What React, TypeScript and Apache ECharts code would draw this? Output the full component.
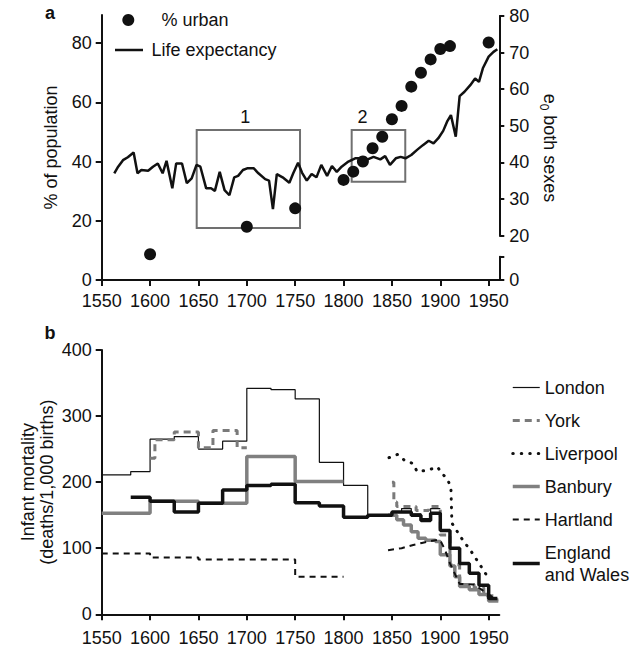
import React, { useEffect, useRef } from "react";
import * as echarts from "echarts";

// ---------- Panel a ----------
const X_TICKS = [1550, 1600, 1650, 1700, 1750, 1800, 1850, 1900, 1950];
const LEFT_TICKS = [0, 20, 40, 60, 80];

const URBAN_YEARS = [1600, 1700, 1750, 1800, 1810, 1820, 1830, 1840, 1850, 1860, 1870, 1880, 1890, 1900, 1910, 1950];
const URBAN_PCT = [8.7, 18.0, 24.2, 33.8, 36.6, 40.0, 44.5, 48.4, 54.3, 58.8, 65.3, 70.0, 74.5, 78.0, 79.0, 80.2];

const LE_YEARS = [
  1563, 1567, 1572, 1577, 1583, 1587, 1591, 1598, 1603, 1608, 1613, 1617, 1623, 1627, 1633, 1638, 1643, 1648,
  1652, 1658, 1663, 1667, 1672, 1677, 1682, 1687, 1691, 1696, 1701, 1707, 1712, 1719, 1723, 1727, 1731, 1737,
  1744, 1748, 1753, 1757, 1762, 1767, 1772, 1777, 1783, 1788, 1793, 1798, 1805, 1812, 1819, 1825, 1831, 1838,
  1843, 1848, 1854, 1859, 1864, 1870, 1876, 1882, 1888, 1893, 1898, 1903, 1907, 1911, 1916, 1920, 1925, 1931,
  1936, 1940, 1944, 1950, 1955, 1959,
];
const LE_VALUES = [
  37.0, 38.8, 40.6, 41.4, 42.7, 37.0, 37.9, 37.7, 38.8, 39.7, 37.0, 40.4, 32.9, 39.7, 39.7, 34.3, 35.6, 39.3,
  38.8, 32.9, 32.9, 32.2, 37.4, 32.4, 31.0, 35.9, 36.3, 37.9, 38.4, 38.4, 37.0, 35.4, 35.0, 27.2, 36.8, 35.9,
  34.4, 37.0, 39.9, 37.2, 35.0, 36.8, 35.9, 39.3, 36.3, 39.0, 37.4, 38.8, 40.2, 41.1, 41.1, 40.8, 41.5, 40.8,
  41.7, 39.3, 41.1, 41.5, 41.1, 42.0, 43.4, 44.7, 45.9, 45.2, 46.6, 48.6, 51.1, 52.9, 47.0, 58.1, 59.3, 61.1,
  62.9, 62.0, 65.7, 68.9, 70.2, 70.9,
];

// highlighted periods: [x0, x1, yTop, yBottom] in data units of % axis
const BOX_LABELS = ["1", "2"];
const BOX_X0 = [1648.2, 1808.4];
const BOX_X1 = [1755, 1863.8];
const BOX_YTOP = [50.7, 50.7];
const BOX_YBOT = [17.6, 33.2];

// ---------- Panel b ----------
const LONDON_YEARS = [1550, 1580, 1600, 1625, 1650, 1675, 1700, 1725, 1750, 1775, 1800, 1825, 1850, 1860, 1870, 1880, 1890, 1900];
const LONDON_VALUES = [211, 216, 265, 269, 250, 262, 342, 340, 326, 230, 195, 150, 155, 160, 152, 145, 160, 160];

const YORK_EARLY_YEARS = [1600, 1605, 1625, 1650, 1665, 1690, 1700];
const YORK_EARLY_VALUES = [236, 264, 276, 252, 278, 252, 252];
const YORK_LATE_YEARS = [1850, 1852, 1855, 1875, 1888, 1900, 1910, 1920, 1935, 1945, 1955, 1960];
const YORK_LATE_VALUES = [200, 170, 163, 157, 163, 120, 75, 45, 40, 28, 22, 22];

const LIVERPOOL_YEARS = [1847, 1856, 1863, 1872, 1876, 1887, 1897, 1902, 1908, 1911, 1912, 1922, 1932, 1941, 1951];
const LIVERPOOL_VALUES = [237, 242, 233, 228, 216, 218, 223, 213, 203, 190, 138, 115, 95, 75, 52];

const BANBURY_EARLY_YEARS = [1550, 1600, 1650, 1700, 1750, 1800];
const BANBURY_EARLY_VALUES = [153, 171, 168, 239, 201, 201];
const BANBURY_LATE_YEARS = [1846, 1855, 1862, 1870, 1877, 1885, 1895, 1900, 1910, 1915, 1920, 1930, 1940, 1950, 1960];
const BANBURY_LATE_VALUES = [150, 143, 135, 125, 115, 112, 110, 90, 73, 57, 42, 37, 30, 20, 20];

const HARTLAND_EARLY_YEARS = [1550, 1600, 1650, 1750, 1800];
const HARTLAND_EARLY_VALUES = [92, 86, 83, 57, 57];
const HARTLAND_LATE_YEARS = [1846, 1860, 1872, 1881, 1898, 1900, 1905, 1910, 1920, 1935, 1945, 1955];
const HARTLAND_LATE_VALUES = [97, 100, 105, 108, 113, 112, 97, 77, 46, 45, 35, 25];

const EW_YEARS = [1580, 1600, 1625, 1650, 1675, 1700, 1725, 1750, 1775, 1800, 1825, 1850, 1870, 1880, 1890, 1900, 1910, 1920, 1930, 1940, 1950, 1959];
const EW_VALUES = [177, 171, 155, 168, 188, 195, 197, 169, 164, 147, 150, 155, 150, 142, 153, 127, 100, 77, 62, 44, 24, 24];

const LEGEND_NAMES = ["London", "York", "Liverpool", "Banbury", "Hartland", "England and Wales"];

const zip = (xs: number[], ys: number[]) => xs.map((x, i) => [x, ys[i]]);

const FONT = "Liberation Sans, Arial, Helvetica, sans-serif";
const INK = "#111111";
const GRAY = "#7a7a7a";

export default function App() {
  const ref = useRef<HTMLDivElement>(null);

  useEffect(() => {
    if (!ref.current) return;
    const chart = echarts.init(ref.current, undefined, { renderer: "svg" });

    const L = 101.7;
    const W = 397.6;

    const axisLineStyle = { lineStyle: { color: INK, width: 2 } };
    const tickStyle = { lineStyle: { color: INK, width: 2 }, length: 6 };
    const labelStyle = { color: INK, fontSize: 18, fontFamily: FONT };

    const hiddenX = (gi: number) => ({
      type: "value",
      gridIndex: gi,
      min: 1550,
      max: 1961,
      show: false,
      splitLine: { show: false },
    });

    const visibleX = (gi: number, margin: number) => ({
      type: "value",
      gridIndex: gi,
      min: 1550,
      max: 1961,
      axisLine: axisLineStyle,
      axisTick: { ...tickStyle, customValues: X_TICKS },
      axisLabel: { ...labelStyle, margin, customValues: X_TICKS, formatter: (v: number) => String(v) },
      splitLine: { show: false },
    });

    const stepLine = (name: string, data: number[][], lineStyle: any, step: any = "end") => ({
      name,
      type: "line",
      xAxisIndex: 3,
      yAxisIndex: 3,
      step,
      data,
      symbol: "none",
      showSymbol: false,
      clip: false,
      lineStyle,
      itemStyle: { color: lineStyle.color },
      emphasis: { disabled: true },
    });

    const styles: Record<string, any> = {
      London: { color: INK, width: 1.2 },
      York: { color: GRAY, width: 3, type: [7, 5] },
      Liverpool: { color: INK, width: 3, type: [0.5, 8], cap: "round" },
      Banbury: { color: "#808080", width: 3.5 },
      Hartland: { color: INK, width: 2, type: [6, 5] },
      "England and Wales": { color: INK, width: 3.5 },
    };

    const option: any = {
      animation: false,
      textStyle: { fontFamily: FONT },
      grid: [
        { left: L, top: 15, width: W, height: 265 },
        { left: L, top: 16, width: W, height: 219.5 },
        { left: L, top: 256.7, width: W, height: 23.3 },
        { left: L, top: 350, width: W, height: 264.3 },
      ],
      xAxis: [visibleX(0, 12), hiddenX(1), hiddenX(2), visibleX(3, 15)],
      yAxis: [
        {
          type: "value",
          gridIndex: 0,
          position: "left",
          min: 0,
          max: 89.5,
          axisLine: { show: true, ...axisLineStyle },
          axisTick: { show: true, ...tickStyle, customValues: LEFT_TICKS },
          axisLabel: { ...labelStyle, margin: 10, customValues: LEFT_TICKS },
          splitLine: { show: false },
          name: "% of population",
          nameLocation: "middle",
          nameGap: 42,
          nameMoveOverlap: false,
          nameTextStyle: { color: INK, fontSize: 18, fontFamily: FONT },
        },
        {
          type: "value",
          gridIndex: 1,
          position: "right",
          min: 20,
          max: 80,
          interval: 10,
          axisLine: { show: true, ...axisLineStyle },
          axisTick: { show: true, ...tickStyle, length: 5 },
          axisLabel: { ...labelStyle, margin: 10 },
          splitLine: { show: false },
        },
        {
          type: "value",
          gridIndex: 2,
          position: "right",
          min: 0,
          max: 6.37,
          axisLine: { show: true, ...axisLineStyle },
          axisTick: { show: true, ...tickStyle, length: 5, customValues: [0, 6.37] },
          axisLabel: { ...labelStyle, margin: 10, customValues: [0] },
          splitLine: { show: false },
        },
        {
          type: "value",
          gridIndex: 3,
          position: "left",
          min: 0,
          max: 400,
          interval: 100,
          axisLine: { show: true, ...axisLineStyle },
          axisTick: { show: true, ...tickStyle },
          axisLabel: { ...labelStyle, margin: 10 },
          splitLine: { show: false },
          name: "Infant mortality\n(deaths/1,000 births)",
          nameLocation: "middle",
          nameGap: 45,
          nameMoveOverlap: false,
          nameTextStyle: { color: INK, fontSize: 18, fontFamily: FONT, lineHeight: 19 },
        },
      ],
      legend: {
        data: LEGEND_NAMES.map((n) => ({ name: n, lineStyle: { ...styles[n] } })),
        orient: "vertical",
        left: 506,
        top: 371.5,
        itemWidth: 27,
        itemHeight: 14,
        itemGap: 11,
        selectedMode: false,
        itemStyle: { opacity: 0 },
        formatter: (n: string) => (n === "England and Wales" ? "England\nand Wales" : n),
        textStyle: { color: INK, fontSize: 18, fontFamily: FONT, lineHeight: 22 },
      },
      series: [
        {
          name: "% urban",
          type: "scatter",
          xAxisIndex: 0,
          yAxisIndex: 0,
          data: zip(URBAN_YEARS, URBAN_PCT),
          symbolSize: 12,
          clip: false,
          itemStyle: { color: INK, opacity: 1 },
          z: 4,
          markArea: {
            silent: true,
            itemStyle: { color: "rgba(0,0,0,0)", borderColor: "#707070", borderWidth: 2 },
            label: { show: true, position: "top", color: INK, fontSize: 18, fontFamily: FONT, distance: 3 },
            data: BOX_LABELS.map((lab, i) => [
              {
                name: lab,
                coord: [BOX_X0[i], BOX_YTOP[i]],
                label: { offset: [i === 0 ? -3 : -16, 0] },
              },
              { coord: [BOX_X1[i], BOX_YBOT[i]] },
            ]),
          },
        },
        {
          name: "Life expectancy",
          type: "line",
          xAxisIndex: 1,
          yAxisIndex: 1,
          data: zip(LE_YEARS, LE_VALUES),
          symbol: "none",
          showSymbol: false,
          clip: false,
          lineStyle: { color: INK, width: 2.5 },
          z: 3,
        },
        stepLine("London", zip(LONDON_YEARS, LONDON_VALUES), styles.London),
        stepLine("York", zip(YORK_EARLY_YEARS, YORK_EARLY_VALUES), styles.York),
        stepLine("York", zip(YORK_LATE_YEARS, YORK_LATE_VALUES), styles.York),
        stepLine("Liverpool", zip(LIVERPOOL_YEARS, LIVERPOOL_VALUES), styles.Liverpool, false),
        stepLine("Banbury", zip(BANBURY_EARLY_YEARS, BANBURY_EARLY_VALUES), styles.Banbury),
        stepLine("Banbury", zip(BANBURY_LATE_YEARS, BANBURY_LATE_VALUES), styles.Banbury),
        stepLine("Hartland", zip(HARTLAND_EARLY_YEARS, HARTLAND_EARLY_VALUES), styles.Hartland),
        stepLine("Hartland", zip(HARTLAND_LATE_YEARS, HARTLAND_LATE_VALUES), styles.Hartland, false),
        stepLine("England and Wales", zip(EW_YEARS, EW_VALUES), styles["England and Wales"]),
      ],
      graphic: [
        { type: "text", x: 50, y: 13, style: { text: "a", fontSize: 18, fontWeight: "bold", fontFamily: FONT, fill: INK, align: "center", verticalAlign: "middle" } },
        { type: "text", x: 50, y: 333, style: { text: "b", fontSize: 18, fontWeight: "bold", fontFamily: FONT, fill: INK, align: "center", verticalAlign: "middle" } },
        { type: "circle", shape: { cx: 128.3, cy: 20, r: 6 }, style: { fill: INK } },
        { type: "text", x: 161.5, y: 20, style: { text: "% urban", fontSize: 18, fontFamily: FONT, fill: INK, align: "left", verticalAlign: "middle" } },
        { type: "line", shape: { x1: 115, y1: 50, x2: 143, y2: 50 }, style: { stroke: INK, lineWidth: 2.5 } },
        { type: "text", x: 151.5, y: 50, style: { text: "Life expectancy", fontSize: 18, fontFamily: FONT, fill: INK, align: "left", verticalAlign: "middle" } },
        {
          type: "text",
          x: 550,
          y: 148,
          rotation: -Math.PI / 2,
          style: {
            text: "{e|e}{s|0}{t| both sexes}",
            fontFamily: FONT,
            fill: INK,
            align: "center",
            verticalAlign: "middle",
            rich: {
              e: { fontSize: 18, lineHeight: 24, fontFamily: FONT, fill: INK },
              s: { fontSize: 12, lineHeight: 12, verticalAlign: "bottom", fontFamily: FONT, fill: INK },
              t: { fontSize: 18, lineHeight: 24, fontFamily: FONT, fill: INK },
            },
          },
        },
      ],
    };

    chart.setOption(option);
    return () => chart.dispose();
  }, []);

  return (
    <div
      ref={ref}
      style={{ position: "fixed", left: 0, top: 0, width: 637, height: 649, background: "#ffffff" }}
    />
  );
}
